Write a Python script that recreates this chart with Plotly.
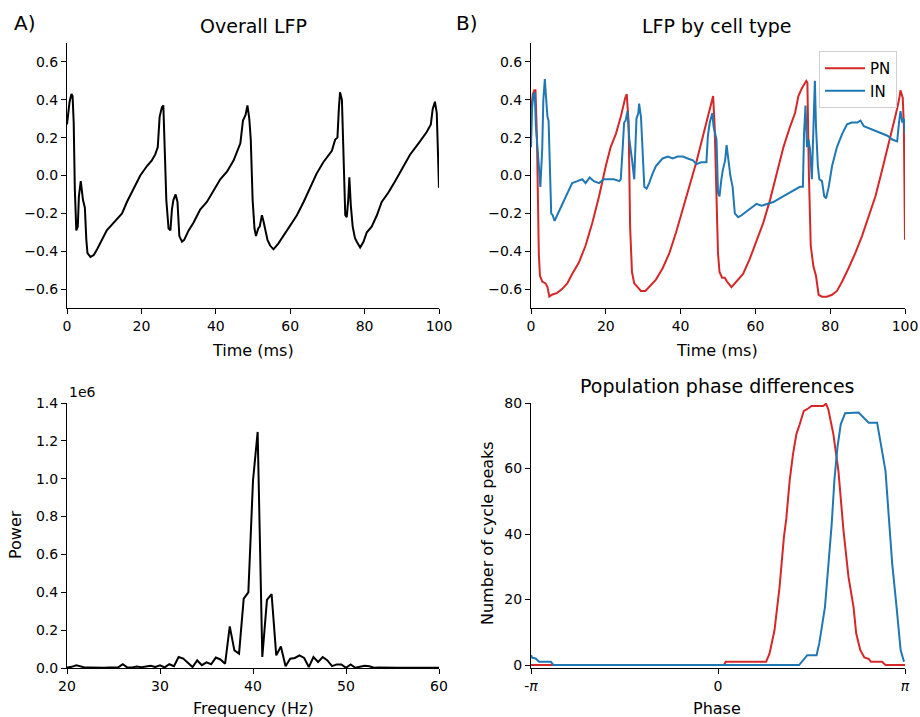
import plotly.graph_objects as go

# ---------------- data ----------------
# A) overall LFP
lfp_t = [0, 0.7, 1.2, 1.5, 1.8, 2.1, 2.5, 2.9, 3.2, 3.7, 4.3, 4.8, 5.2, 5.5, 6.3, 7.2, 8.1, 9.4,
         10.7, 11.6, 13.4, 14.8, 16.1, 17.9, 19.7, 21.5, 22.8, 23.7, 24.4, 24.9, 25.5, 25.9, 26.2,
         26.7, 27.3, 27.8, 28.2, 28.6, 29.2, 29.7, 30.2, 30.9, 31.5, 32.7, 34.0, 35.8, 37.6, 39.4,
         41.2, 43.0, 44.8, 46.6, 47.3, 48.0, 48.5, 49.0, 49.4, 49.9, 50.4, 50.8, 51.4, 51.8, 52.4,
         52.8, 53.4, 53.9, 54.6, 55.5, 56.8, 58.2, 59.9, 61.8, 63.6, 65.4, 67.1, 68.9, 70.3, 71.2,
         72.1, 72.7, 73.1, 73.4, 73.9, 74.3, 74.8, 75.2, 75.6, 75.9, 76.3, 76.8, 77.4, 77.9, 78.8,
         79.7, 80.6, 81.9, 83.3, 84.6, 86.4, 88.2, 90.0, 92.2, 94.5, 96.7, 97.8, 98.3, 98.9, 99.4, 100]
lfp_v = [0.27, 0.39, 0.43, 0.42, 0.28, -0.07, -0.29, -0.27, -0.11, -0.03, -0.13, -0.17, -0.34, -0.41,
         -0.43, -0.42, -0.39, -0.34, -0.29, -0.27, -0.23, -0.20, -0.14, -0.07, 0.00, 0.05, 0.08, 0.11,
         0.15, 0.31, 0.36, 0.37, 0.21, -0.13, -0.28, -0.29, -0.18, -0.13, -0.10, -0.14, -0.32, -0.35,
         -0.34, -0.29, -0.25, -0.18, -0.14, -0.08, -0.02, 0.02, 0.08, 0.17, 0.29, 0.32, 0.37, 0.30,
         0.19, -0.13, -0.28, -0.32, -0.28, -0.27, -0.21, -0.24, -0.29, -0.34, -0.37, -0.39, -0.36,
         -0.32, -0.27, -0.21, -0.14, -0.06, 0.01, 0.07, 0.11, 0.13, 0.19, 0.20, 0.36, 0.44, 0.40,
         0.14, -0.21, -0.22, -0.13, -0.01, -0.16, -0.27, -0.33, -0.35, -0.38, -0.35, -0.30, -0.27,
         -0.21, -0.14, -0.09, -0.03, 0.03, 0.11, 0.17, 0.23, 0.27, 0.35, 0.39, 0.33, -0.065]

# B) LFP by cell type
pn_t = [0, 0.5, 0.9, 1.2, 1.6, 2.1, 2.4, 3.0, 3.9, 4.4, 4.9, 5.6, 7.0, 8.3, 9.7, 11.0, 12.8, 14.6,
        16.4, 18.2, 20.0, 21.3, 22.7, 24.0, 25.2, 25.6, 26.1, 26.5, 27.0, 27.6, 28.5, 29.4, 30.6,
        31.6, 33.4, 35.2, 37.0, 38.8, 40.6, 42.4, 44.2, 46.0, 47.3, 48.2, 48.7, 49.1, 49.6, 50.0,
        50.4, 51.1, 51.8, 52.4, 53.6, 54.9, 56.7, 58.5, 60.3, 62.1, 63.9, 65.7, 67.5, 69.3, 70.6,
        71.5, 72.4, 73.6, 73.9, 74.3, 74.8, 75.5, 76.2, 76.9, 77.8, 79.1, 80.5, 81.8, 83.2, 84.9,
        86.7, 88.5, 90.3, 92.1, 93.9, 95.7, 97.5, 98.4, 98.8, 99.4, 99.7, 100]
pn_v = [0.35, 0.43, 0.45, 0.45, 0.19, -0.42, -0.53, -0.56, -0.57, -0.59, -0.64, -0.63, -0.62, -0.60,
        -0.57, -0.52, -0.46, -0.37, -0.25, -0.11, 0.05, 0.15, 0.22, 0.31, 0.41, 0.43, 0.28, -0.27,
        -0.51, -0.57, -0.59, -0.61, -0.61, -0.59, -0.55, -0.49, -0.41, -0.30, -0.18, -0.06, 0.07,
        0.21, 0.31, 0.38, 0.42, 0.26, -0.13, -0.41, -0.51, -0.54, -0.54, -0.56, -0.59, -0.56,
        -0.52, -0.44, -0.35, -0.25, -0.13, 0.01, 0.15, 0.26, 0.33, 0.42, 0.46, 0.50, 0.49, 0.01,
        -0.37, -0.48, -0.53, -0.63, -0.64, -0.64, -0.63, -0.61, -0.56, -0.49, -0.41, -0.32, -0.21,
        -0.11, 0.03, 0.17, 0.32, 0.40, 0.45, 0.41, 0.26, -0.34]
in_t = [0, 0.3, 0.6, 1.0, 1.3, 1.8, 2.1, 2.5, 3.0, 3.3, 3.7, 4.0, 4.4, 4.7, 5.1, 5.4, 5.8, 6.3, 7.0,
        7.9, 8.8, 9.9, 11.0, 12.4, 13.7, 14.6, 15.7, 16.8, 18.2, 19.5, 20.9, 22.2, 23.6, 24.0, 24.5,
        24.9, 25.3, 25.8, 26.3, 26.7, 27.1, 27.6, 27.9, 28.2, 28.7, 28.9, 29.4, 29.8, 30.3, 30.9,
        31.6, 32.5, 33.4, 34.3, 35.2, 36.6, 37.9, 39.2, 40.6, 41.9, 43.3, 44.2, 45.5, 46.9, 47.3,
        47.8, 48.5, 48.8, 49.6, 50.0, 50.4, 50.9, 51.3, 51.9, 52.3, 52.8, 53.3, 53.9, 54.5, 55.4,
        56.3, 57.6, 59.0, 60.3, 61.6, 63.0, 64.8, 66.6, 68.4, 70.2, 71.9, 72.7, 73.0, 73.4, 73.8,
        74.2, 74.6, 75.1, 75.5, 75.9, 76.2, 76.7, 77.1, 77.8, 78.4, 78.9, 79.6, 80.5, 81.8, 83.2,
        84.5, 85.8, 87.2, 88.1, 89.0, 90.3, 91.7, 93.0, 94.4, 95.3, 96.6, 97.9, 98.4, 98.8, 99.3,
        99.7, 100]
in_v = [0.15, 0.36, 0.42, 0.44, 0.26, 0.15, 0.05, -0.06, 0.14, 0.40, 0.51, 0.42, 0.31, 0.29, -0.02,
        -0.20, -0.21, -0.24, -0.21, -0.17, -0.13, -0.08, -0.04, -0.03, -0.02, -0.04, -0.01, -0.03,
        -0.04, -0.02, -0.02, -0.02, -0.03, -0.02, 0.14, 0.28, 0.29, 0.34, 0.19, 0.14, 0.07, -0.02,
        0.19, 0.30, 0.33, 0.38, 0.31, 0.14, -0.06, -0.07, -0.04, 0.01, 0.05, 0.07, 0.09, 0.10, 0.09,
        0.10, 0.10, 0.09, 0.08, 0.06, 0.07, 0.07, 0.21, 0.28, 0.33, 0.26, 0.19, -0.09, -0.11, -0.02,
        0.03, 0.08, 0.16, 0.08, 0.00, -0.06, -0.20, -0.22, -0.21, -0.19, -0.17, -0.15, -0.16,
        -0.15, -0.14, -0.12, -0.10, -0.08, -0.06, -0.06, 0.22, 0.37, 0.15, 0.19, 0.14, -0.02, 0.24,
        0.50, 0.26, 0.05, -0.02, -0.03, -0.11, -0.12, -0.06, 0.05, 0.15, 0.22, 0.27, 0.28, 0.28,
        0.29, 0.26, 0.25, 0.24, 0.23, 0.22, 0.21, 0.19, 0.18, 0.28, 0.34, 0.28, 0.30, 0.22]

# C) power spectrum (units of 1e6)
freq = [20.0, 20.5, 21.0, 21.5, 22.0, 22.5, 23.0, 23.5, 24.0, 24.5, 25.0, 25.5, 26.0, 26.5, 27.0,
        27.5, 28.0, 28.5, 29.0, 29.5, 30.0, 30.5, 31.0, 31.5, 32.0, 32.5, 33.0, 33.5, 34.0, 34.5,
        35.0, 35.5, 36.0, 36.5, 37.0, 37.5, 38.0, 38.5, 39.0, 39.5, 40.0, 40.5, 41.0, 41.5, 42.0,
        42.5, 43.0, 43.5, 44.0, 44.5, 45.0, 45.5, 46.0, 46.5, 47.0, 47.5, 48.0, 48.5, 49.0, 49.5,
        50.0, 50.5, 51.0, 51.5, 52.0, 52.5, 53.0, 53.5, 54.0, 54.5, 55.0, 55.5, 56.0, 56.5, 57.0,
        57.5, 58.0, 58.5, 59.0, 59.5, 60.0]
power = [0.003, 0.006, 0.014, 0.007, 0.002, 0.002, 0.001, 0.002, 0.001, 0.003, 0.002, 0.003, 0.020,
         0.002, 0.003, 0.008, 0.004, 0.006, 0.012, 0.005, 0.014, 0.003, 0.020, 0.010, 0.058, 0.050,
         0.030, 0.005, 0.040, 0.015, 0.030, 0.020, 0.055, 0.045, 0.023, 0.220, 0.093, 0.076, 0.366,
         0.400, 0.990, 1.247, 0.058, 0.360, 0.390, 0.067, 0.114, 0.009, 0.049, 0.053, 0.067, 0.053,
         0.005, 0.058, 0.032, 0.058, 0.040, 0.010, 0.019, 0.019, 0.001, 0.019, 0.001, 0.005, 0.012,
         0.009, 0.001, 0.002, 0.001, 0.001, 0.002, 0.001, 0.001, 0.002, 0.001, 0.001, 0.001, 0.001,
         0.001, 0.001, 0.001]

# D) population phase differences
pn_phase = [-3.1416, 0.10, 0.13, 0.808, 0.865, 0.949, 1.034, 1.107, 1.147, 1.204, 1.260, 1.317, 1.373,
            1.441, 1.497, 1.571, 1.769, 1.814, 1.853, 1.938, 2.023, 2.108, 2.192, 2.277, 2.322,
            2.390, 2.458, 2.531, 2.571, 2.757, 2.814, 3.1416]
pn_count = [0, 0, 1, 1, 3.5, 10.6, 23.8, 39, 44.6, 56.3, 64.4, 70.5, 73.5, 77.6, 78.1, 79.1, 79.1,
            79.8, 78.1, 70.5, 59.3, 41.1, 26.9, 17.7, 9.6, 4.6, 2.3, 1.9, 1, 1, 0, 0]
in_phase = [-3.1416, -3.119, -3.063, -3.006, -2.808, -2.763, 1.362, 1.50, 1.656, 1.701, 1.797, 1.853,
            1.910, 1.955, 2.006, 2.062, 2.136, 2.362, 2.447, 2.531, 2.673, 2.729, 2.814, 2.870,
            2.927, 3.000, 3.068, 3.125]
in_count = [3, 2.2, 2, 1, 1, 0, 0, 3, 3, 6.6, 17.7, 29.9, 43, 56.3, 66.4, 73.5, 76.9, 77.1, 75.6, 74,
            74, 68.5, 59.3, 45.1, 30.9, 17.7, 4.6, 1]

# ---------------- figure ----------------
W, H = 920, 717
RED = "#d62728"
BLUE = "#1f77b4"
FONT = "DejaVu Sans"

def px(x):
    return x / W

def py(y):
    return 1 - y / H

fig = go.Figure()
fig.add_trace(go.Scatter(x=lfp_t, y=lfp_v, mode="lines", line=dict(color="black", width=2),
                         showlegend=False, xaxis="x", yaxis="y"))
fig.add_trace(go.Scatter(x=pn_t, y=pn_v, mode="lines", line=dict(color=RED, width=2),
                         name="PN", xaxis="x2", yaxis="y2"))
fig.add_trace(go.Scatter(x=in_t, y=in_v, mode="lines", line=dict(color=BLUE, width=2),
                         name="IN", xaxis="x2", yaxis="y2"))
fig.add_trace(go.Scatter(x=freq, y=power, mode="lines", line=dict(color="black", width=2),
                         showlegend=False, xaxis="x3", yaxis="y3"))
fig.add_trace(go.Scatter(x=pn_phase, y=pn_count, mode="lines", line=dict(color=RED, width=2),
                         showlegend=False, xaxis="x4", yaxis="y4"))
fig.add_trace(go.Scatter(x=in_phase, y=in_count, mode="lines", line=dict(color=BLUE, width=2),
                         showlegend=False, xaxis="x4", yaxis="y4"))

axcommon = dict(showline=True, linecolor="black", linewidth=1, ticks="outside", ticklen=5,
                tickwidth=1, tickcolor="black", showgrid=False, zeroline=False, automargin=False,
                tickfont=dict(family=FONT, size=14, color="black"))

xl = [px(67), px(439)]
xr = [px(531), px(905)]
yt = [py(308), py(43)]
yb = [py(668), py(403)]

lfp_ticks = [-0.6, -0.4, -0.2, 0.0, 0.2, 0.4, 0.6]
lfp_ticktext = ["\u22120.6", "\u22120.4", "\u22120.2", "0.0", "0.2", "0.4", "0.6"]
time_ticks = [0, 20, 40, 60, 80, 100]

fig.update_layout(
    width=W, height=H, margin=dict(l=0, r=0, t=0, b=0, pad=0, autoexpand=False),
    plot_bgcolor="white", paper_bgcolor="white",
    font=dict(family=FONT, size=14, color="black"),
    xaxis=dict(domain=xl, anchor="y", range=[0, 100], tickvals=time_ticks, **axcommon),
    yaxis=dict(domain=yt, anchor="x", range=[-0.7, 0.7], tickvals=lfp_ticks,
               ticktext=lfp_ticktext, **axcommon),
    xaxis2=dict(domain=xr, anchor="y2", range=[0, 100], tickvals=time_ticks, **axcommon),
    yaxis2=dict(domain=yt, anchor="x2", range=[-0.7, 0.7], tickvals=lfp_ticks,
                ticktext=lfp_ticktext, **axcommon),
    xaxis3=dict(domain=xl, anchor="y3", range=[20, 60], tickvals=[20, 30, 40, 50, 60], **axcommon),
    yaxis3=dict(domain=yb, anchor="x3", range=[0, 1.4],
                tickvals=[0, 0.2, 0.4, 0.6, 0.8, 1.0, 1.2, 1.4], tickformat=".1f", **axcommon),
    xaxis4=dict(domain=xr, anchor="y4", range=[-3.14159265, 3.14159265],
                tickvals=[-3.14159265, 0, 3.14159265],
                ticktext=["-<i>\u03c0</i>", "0", "<i>\u03c0</i>"], **axcommon),
    yaxis4=dict(domain=yb, anchor="x4", range=[-0.9, 80], tickvals=[0, 20, 40, 60, 80], **axcommon),
    legend=dict(x=px(897), y=py(51), xanchor="right", yanchor="top",
                bordercolor="#d0d0d0", borderwidth=1, bgcolor="rgba(255,255,255,0.8)",
                font=dict(family=FONT, size=15, color="black"), itemwidth=40,
                tracegroupgap=2),
)

def ann(text, x, y, size=16, xanchor="center", yanchor="middle", angle=0):
    fig.add_annotation(text=text, x=px(x), y=py(y), xref="paper", yref="paper",
                       showarrow=False, xanchor=xanchor, yanchor=yanchor, textangle=angle,
                       font=dict(family=FONT, size=size, color="black"))

ann("A)", 24, 23, size=20)
ann("B)", 467, 23, size=20)
ann("Overall LFP", 253, 26, size=19)
ann("LFP by cell type", 717, 26, size=19)
ann("Population phase differences", 717, 386, size=19)
ann("Time (ms)", 253, 350)
ann("Time (ms)", 717, 350)
ann("Frequency (Hz)", 253, 708)
ann("Phase", 717, 708)
ann("Power", 15, 535, angle=-90)
ann("Number of cycle peaks", 487, 533, angle=-90)
ann("1e6", 67, 392, size=14, xanchor="left")

fig.write_html("out.html", config={"displayModeBar": False},
               post_script="document.body.style.margin='0';document.body.style.padding='0';"
                           "document.documentElement.style.overflow='hidden';")
